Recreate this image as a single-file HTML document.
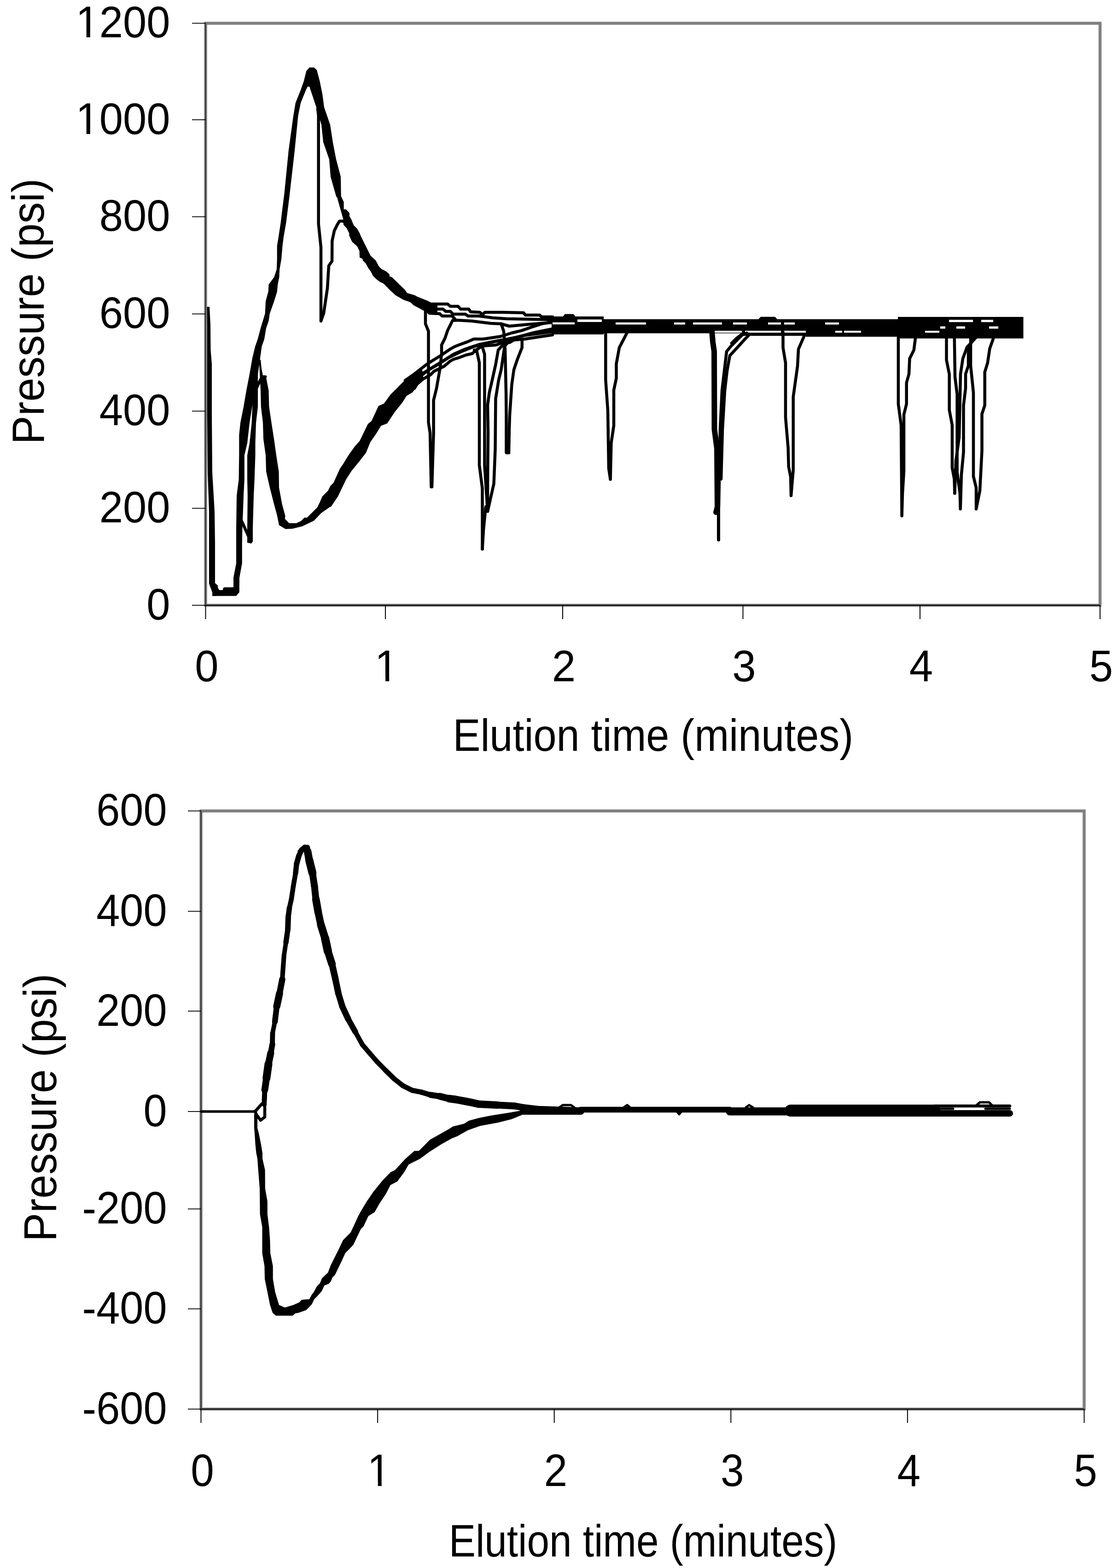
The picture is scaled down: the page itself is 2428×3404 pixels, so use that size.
<!DOCTYPE html>
<html><head><meta charset="utf-8"><style>
html,body{margin:0;padding:0;background:#fff;}
svg{display:block;}
text{font-family:'Liberation Sans', Arial, sans-serif;fill:#000;}
</style></head><body>
<svg width="2428" height="3404" viewBox="0 0 2428 3404" xmlns="http://www.w3.org/2000/svg">
<rect width="2428" height="3404" fill="#fff"/>
<rect x="446.5" y="50.5" width="1942.5" height="1263.5" fill="none" stroke="#808080" stroke-width="6.5"/>
<rect x="436.5" y="1760.5" width="1918.0" height="1298.5" fill="none" stroke="#808080" stroke-width="6.5"/>
<g fill="none" stroke="#000" stroke-width="6.5" stroke-linejoin="round" stroke-linecap="round">
<path d="M449.5 666 L450 705 L450 790 L450 900 L451 1025 L454 1110 L454 1267 L461 1286 L461.4 1293.8 L470 1293.8 L467 1281 L467 1180 L466 1110 L461 1025 L460 900 L460 790 L457.5 760 L457 705 L455 666Z" fill="#000" stroke="none"/>
<path d="M461 1286 L461.4 1293.8 L512.8 1293.8 L519.8 1285.7 L519.8 1275 L507 1275 L487.3 1275 L484.3 1277 L484 1281 L476 1281 L473 1275 L473 1271 L467 1265.7 L467 1275Z" fill="#000" stroke="none"/>
<path d="M507 1290 L507 1254 L513 1223 L513 1146 L514 1076 L518.5 1041 L519.3 988 L519.3 944 L522 918 L529 883 L535 848 L542 812 L548 777.6 L554.2 752 L559.8 736 L566 712.5 L570.8 696.7 L575.6 681 L577 654 L582.7 633 L583.5 617.6 L595.3 601.8 L600.9 584.4 L601.7 562.3 L601.7 533.8 L604.8 514.9 L609.6 483.2 L613.5 451.6 L617.5 420 L626.7 327.3 L637 252 L641.8 223.6 L653 195.4 L659.7 176.5 L665.3 154 L672 146.4 L682 146.4 L688 152 L694.5 176.5 L700.2 204.8 L704 233 L717 270.7 L722.8 308.4 L730 346 L740 383.8 L740.7 426 L746.6 438.6 L746.6 454.6 L751.5 454.6 L759 462.6 L759 469.4 L762.6 475.6 L768.2 489 L775.6 496.5 L780.5 505 L784.2 513.7 L796.5 538.4 L805 555.6 L816.2 565.5 L822.4 577.8 L828.5 584 L838.4 588.9 L845.8 595.6 L845.8 600 L850.7 601.2 L880.2 630 L884 636 L901 641 L913 648.4 L925.7 653 L930.6 658 L950 659 L950 680.5 L930.6 680.5 L913 670.6 L898.6 663 L891 656 L876.5 651 L859 641 L847 630 L833.4 616 L823.6 611 L816.2 604.9 L810 598.7 L805 588.9 L800.2 582.7 L794 571.6 L787.9 565.5 L787.3 561.8 L781.1 559.3 L780.5 544.5 L775.6 534.7 L764.5 524.8 L758.3 511.3 L758.3 506.4 L752.8 495.3 L746 487.9 L746 478 L732.5 430 L730 426 L718 383.8 L715 346 L702 308.4 L698 270.7 L687 233 L677.6 204.8 L672 188 L668 188 L664.4 195.4 L653 223.6 L647.4 252 L639.9 327.3 L628.6 426 L625.4 451.6 L621.4 483.2 L615.9 514.9 L613.5 533.8 L611.1 562.3 L607.2 584.4 L606.4 601.8 L603.2 617.6 L601.7 633.4 L595.3 654 L585.8 681 L583.5 696.7 L578 712.5 L574 736.2 L568.5 752 L565 777.6 L560 812.7 L560 848 L547.5 883 L542 918 L537 962 L530.8 988.5 L530.8 1041 L529 1076 L526.4 1146.6 L525.7 1180 L525.7 1223 L520 1254 L519.8 1275 L507 1275Z" fill="#000" stroke="none"/>
<path d="M690 236 L691.7 250 L691.7 486 L697 537 L697 697 L703 680 L711 626 L714 577 L721 567 L721.3 523 L726 501 L732.4 488 L737.3 480 L746 480 L751 486" stroke-width="6.5"/>
<path d="M537 1178 L537 1146.6 L537.8 1076 L537 1041 L537 988.5 L542 962 L546.6 918 L548 883 L552 860 L558 845 L560 850 L560 883 L556 918 L554.5 962 L554.5 988.5 L552.7 1041 L551 1076 L549 1146.6 L549 1176 L545.5 1180Z" fill="#000" stroke="none"/>
<path d="M524 1130 L528 1138 L539 1163 L541 1166" stroke-width="6.5"/>
<path d="M556 845 L562 832 L567 822 L571 818 L576 818" stroke-width="6.5"/>
<path d="M560.6 781 L563 790 L566 848 L566.8 883 L571 918 L572 953 L577 988.5 L578 1023.6 L586 1058.8 L595 1094 L602 1120 L606 1140 L620 1148.6 L635.4 1147.7 L656.6 1142.6 L681.6 1130.6 L698 1113.5 L716.7 1100.6 L719 1100 L733.9 1077.7 L751.5 1041 L763.7 1022 L781.3 1000.5 L794.8 982.9 L804.3 959.8 L816.5 942.2 L827.3 924.6 L840.9 919.2 L857.1 894.8 L873.4 874.5 L882.9 859.6 L896.4 851.5 L903.2 840.6 L914 827 L920 825.7 L916.7 800 L906 808 L899 810.8 L893.7 816.3 L881.5 823 L847.7 856.9 L834 875.9 L822 881.3 L807 913.8 L798.9 920.6 L781.3 957 L770.4 969.3 L759.6 984.2 L754.2 992.4 L746 1006 L737.9 1018 L724.4 1048 L717.6 1054.7 L712.2 1065.5 L700 1077.7 L694.5 1090.5 L689 1101.5 L666.8 1123.7 L661 1123.7 L653.9 1131 L643.7 1135.7 L628 1135.7 L618.8 1126.5 L619.5 1120 L612.5 1094 L606 1058.8 L605.5 1023.6 L600 988.5 L595 953 L589.6 918 L584.4 883 L583.5 848 L580 830 L577.3 816 L571 816 L568 800 L566 781Z" fill="#000" stroke="none"/>
<path d="M900 645 L925 655 L935 660 L972 660 L978 665 L995 665 L1000 671 L1018 671 L1022 677 L1042 678 L1048 683 L1053 678 L1085 678 L1092 678 L1137 679 L1141 684 L1172 684 L1176 688 L1200 688" stroke-width="6.5"/>
<path d="M905 652 L935 671 L962 671 L968 676 L978 676 L984 682 L1011 682 L1016 686 L1040 686 L1070 690 L1100 692 L1150 693 L1200 694" stroke-width="6.5"/>
<path d="M910 660 L933 680 L955 681 L960 686 L982 686 L990 695 L1025 697 L1066 702 L1088 703 L1106 708 L1150 704 L1200 700" stroke-width="6.5"/>
<path d="M880 855 L900 843 L905.5 834 L918.5 823 L935 813.7 L942.5 806 L953.6 800.7 L964.7 795 L977.6 784 L985 780 L996 776.7 L1011 771 L1025.6 767.5 L1036.7 758 L1047.8 751 L1077 749 L1092 743.5 L1107 743.5 L1116 738 L1140 736 L1166 732 L1200 727" stroke-width="6.5"/>
<path d="M880 826 L900 811.8 L926 791.5 L940.6 782 L955.4 773 L977.6 758 L986.8 752.7 L996 749 L1016.4 741.6 L1029 736 L1049.6 736 L1086.6 730.5 L1110.6 723 L1132.8 717.6 L1155 710 L1177 702.8 L1200 699" stroke-width="6.5"/>
<path d="M880 840 L900 828 L930 803 L960 785 L985 769 L1010 758 L1040 748 L1080 740 L1120 733 L1160 722 L1200 714" stroke-width="6.5"/>
<path d="M890 833 L915 812 L945 795 L975 776 L1000 764 L1030 752 L1060 744 L1100 737 L1140 728 L1200 720" stroke-width="6.5"/>
<path d="M1198 687 L1311 687 L1311 726 L1198 726Z" fill="#000" stroke="none"/>
<path d="M1311 693 L1752 693 L1752 723.6 L1311 723.6Z" fill="#000" stroke="none"/>
<path d="M1611 722 L1752 722 L1752 729 L1611 729Z" fill="#000" stroke="none"/>
<path d="M1750 693 L1952 693 L1952 731 L1750 731Z" fill="#000" stroke="none"/>
<path d="M1950 688 L2222.5 688 L2222.5 734.7 L1950 734.7Z" fill="#000" stroke="none"/>
<path d="M1224 690 L1228 684.5 L1244 684.5 L1249 690" stroke-width="5.5"/>
<path d="M1648 696 L1653 690.5 L1682 690.5 L1687 696" stroke-width="5.5"/>
<path d="M1589 745 L1600 734 L1611 725.8" stroke-width="6.5"/>
<path d="M1200 702 L1248 702" stroke="#fff" stroke-width="4.5" stroke-linecap="butt"/>
<path d="M1254 696.3 L1307 696.3" stroke="#fff" stroke-width="5.5" stroke-linecap="butt"/>
<path d="M1337 702.3 L1403 702.3" stroke="#fff" stroke-width="4.5" stroke-linecap="butt"/>
<path d="M1464 702.3 L1488 702.3" stroke="#fff" stroke-width="4.5" stroke-linecap="butt"/>
<path d="M1505 702.3 L1568 702.3" stroke="#fff" stroke-width="4.5" stroke-linecap="butt"/>
<path d="M1592 702.3 L1622 702.3" stroke="#fff" stroke-width="4.5" stroke-linecap="butt"/>
<path d="M1668 702.3 L1696 702.3" stroke="#fff" stroke-width="4.5" stroke-linecap="butt"/>
<path d="M1703 702.3 L1726 702.3" stroke="#fff" stroke-width="4.5" stroke-linecap="butt"/>
<path d="M1792 702.3 L1822 702.3" stroke="#fff" stroke-width="4.5" stroke-linecap="butt"/>
<path d="M1540 720.2 L1611 720.2" stroke="#fff" stroke-width="4.2" stroke-linecap="butt"/>
<path d="M1618 720.2 L1696 720.2" stroke="#fff" stroke-width="4.2" stroke-linecap="butt"/>
<path d="M1703 720.2 L1750 720.2" stroke="#fff" stroke-width="4.2" stroke-linecap="butt"/>
<path d="M1814 720.2 L1829 720.2" stroke="#fff" stroke-width="4.2" stroke-linecap="butt"/>
<path d="M1833 720.2 L1870 720.2" stroke="#fff" stroke-width="4.2" stroke-linecap="butt"/>
<path d="M2009 720.2 L2040 720.2" stroke="#fff" stroke-width="4.2" stroke-linecap="butt"/>
<path d="M2061 696.8 L2113 696.8" stroke="#fff" stroke-width="5" stroke-linecap="butt"/>
<path d="M2131 696.8 L2157 696.8" stroke="#fff" stroke-width="5" stroke-linecap="butt"/>
<path d="M2042 711 L2053 711" stroke="#fff" stroke-width="5" stroke-linecap="butt"/>
<path d="M2077 711 L2096 711" stroke="#fff" stroke-width="5" stroke-linecap="butt"/>
<path d="M2148 711 L2168 711" stroke="#fff" stroke-width="5" stroke-linecap="butt"/>
<path d="M1203 727.5 L1211 727.5" stroke="#fff" stroke-width="3" stroke-linecap="butt"/>
<path d="M1222 727.5 L1230 727.5" stroke="#fff" stroke-width="3" stroke-linecap="butt"/>
<path d="M1242 727.5 L1250 727.5" stroke="#fff" stroke-width="3" stroke-linecap="butt"/>
<path d="M1263 727.5 L1271 727.5" stroke="#fff" stroke-width="3" stroke-linecap="butt"/>
<path d="M924 667 L924 703 L930.5 719 L930.5 917 L934 940 L936.5 1057 L938 1057 L941.6 940 L941.6 869 L948 843 L955.4 801 L959 769 L959 749 L966.5 734 L972 717.6 L977.6 706.5 L983 695.4 L990.5 695.4" stroke-width="6.5"/>
<path d="M1030 760 L1035 760 L1041 788 L1041 1010 L1047.5 1060 L1047.5 1192" stroke-width="6.5"/>
<path d="M1048 754.5 L1052.4 769 L1052.4 1010 L1059 1110" stroke-width="6.5"/>
<path d="M1047.5 1192 L1050 1150 L1055 1100 L1059 1110 L1059 1050 L1060 940 L1059 880 L1062.6 852.4 L1069 824.7 L1076.4 791.5 L1082 760 L1090 751 L1096 743.5" stroke-width="6.5"/>
<path d="M1059 1110 L1072.5 1050 L1075.5 975 L1076.4 865.4 L1083 824.7 L1088.4 802.6 L1096 751 L1107 739.8" stroke-width="6.5"/>
<path d="M1088.4 702.8 L1094 719.4 L1097 760 L1099 852.4 L1099.5 900 L1099.5 982" stroke-width="6.5"/>
<path d="M1105 982 L1106 930 L1107 900 L1111.5 834 L1116 802.6 L1123.5 780.4 L1133.7 754.5 L1133.7 739.8" stroke-width="6.5"/>
<path d="M1100 983 L1105 983" stroke-width="6.5"/>
<path d="M1315.3 715 L1315.3 824.7 L1320 891 L1322 1017 L1325.6 1040.8 L1327.4 961.4 L1333 924 L1333 847 L1338.5 821 L1338.5 789.6 L1345 754.5 L1362.5 721" stroke-width="6.5"/>
<path d="M1546 718 L1548 742 L1551 763 L1551.5 932 L1557 974 L1558 1101 L1555 1112" stroke-width="12"/>
<path d="M1560.5 1040 L1560.5 1172" stroke-width="7"/>
<path d="M1561 1100 L1564 932 L1568 848 L1573 805 L1578 763 L1587 752 L1612 727 L1622 723" stroke-width="6.5"/>
<path d="M1566 1040 L1569 932 L1574 848 L1579 805 L1585 772 L1598 758 L1618 736 L1625 729" stroke-width="6.5"/>
<path d="M1700.5 721 L1700.5 754.5 L1706 787.8 L1706 906 L1711.6 972.5 L1712.7 1013 L1717 1035 L1718 1076 L1722.7 1020.5 L1722.7 861.6 L1732 795 L1734 758 L1746.7 728.7" stroke-width="6.5"/>
<path d="M1950.9 732 L1950.9 877 L1957 923 L1958.6 1120 L1960 1071 L1963 1022 L1963 900 L1968.7 877 L1968.7 831 L1974 812 L1975.5 778.5 L1984.7 760 L1987.8 735.4" stroke-width="6.5"/>
<path d="M2055.5 732 L2055.5 781.6 L2061.7 812.4 L2061.7 890 L2067.9 923 L2067.9 1015.6 L2072.5 1040 L2073.4 1071" stroke-width="6.5"/>
<path d="M2072.5 720 L2074 818.6 L2078.6 855.5 L2078.6 1025 L2084.8 1071 L2085.7 1105 L2087.9 1031 L2092.5 981.7 L2092.5 880 L2097 843 L2097 812 L2103 794 L2103 763 L2111 738.5 L2120 732" stroke-width="6.5"/>
<path d="M2073.4 1071 L2076 1000 L2083 950 L2086 812 L2091 778.5 L2100 754 L2120 732" stroke-width="6.5"/>
<path d="M2108 717 L2108 794 L2114 852.4 L2114 1034 L2120 1059 L2120 1105 L2128 1065 L2132.5 978.7 L2132.5 898.6 L2138.7 880 L2138.7 807.8 L2144.8 787.8 L2149.4 757 L2157 735.4" stroke-width="6.5"/>
<path d="M437 2413 L554 2413" stroke-width="5.5"/>
<path d="M554 2413 L569 2396 L575 2400 L575 2425 L566 2432 L557 2420 L554 2413" stroke-width="6.5"/>
<path d="M574 2398 L574 2390" stroke-width="10.2"/>
<path d="M574 2390 L575 2366" stroke-width="11"/>
<path d="M575 2366 L578.7 2341" stroke-width="14.8"/>
<path d="M578.7 2341 L583 2310" stroke-width="17"/>
<path d="M583 2310 L588 2286" stroke-width="15"/>
<path d="M588 2286 L591.5 2267" stroke-width="12.5"/>
<path d="M591.5 2267 L592 2243" stroke-width="10.8"/>
<path d="M592 2243 L597 2218" stroke-width="9.8"/>
<path d="M597 2218 L601 2185" stroke-width="12.5"/>
<path d="M601 2185 L607 2157" stroke-width="15.5"/>
<path d="M607 2157 L613 2126" stroke-width="13.5"/>
<path d="M613 2126 L616.8 2074" stroke-width="10.2"/>
<path d="M616.8 2074 L621 2046" stroke-width="9.8"/>
<path d="M621 2046 L625 2018" stroke-width="11.5"/>
<path d="M625 2018 L626 1990" stroke-width="12"/>
<path d="M626 1990 L628.5 1971" stroke-width="11.5"/>
<path d="M628.5 1971 L632.8 1952" stroke-width="10.5"/>
<path d="M632.8 1952 L637 1924" stroke-width="10.5"/>
<path d="M637 1924 L642 1895" stroke-width="10.5"/>
<path d="M642 1895 L644 1876" stroke-width="11.5"/>
<path d="M644 1876 L649 1858" stroke-width="12"/>
<path d="M649 1858 L655 1845" stroke-width="11.5"/>
<path d="M655 1845 L662 1839" stroke-width="11"/>
<path d="M650 1848 L663 1837.5 L668 1837.5 L670 1845" stroke-width="7"/>
<path d="M667 1840 L668 1848" stroke-width="12.5"/>
<path d="M668 1848 L671.5 1867" stroke-width="16.5"/>
<path d="M671.5 1867 L678.5 1895" stroke-width="17.5"/>
<path d="M678.5 1895 L683 1924" stroke-width="15"/>
<path d="M683 1924 L686 1952" stroke-width="15"/>
<path d="M686 1952 L691 1980" stroke-width="16.5"/>
<path d="M691 1980 L697 2008" stroke-width="16"/>
<path d="M697 2008 L706 2037" stroke-width="17"/>
<path d="M706 2037 L712 2065" stroke-width="18"/>
<path d="M712 2065 L721 2093" stroke-width="16.5"/>
<path d="M721 2093 L728.5 2126" stroke-width="14.5"/>
<path d="M728.5 2126 L735 2157" stroke-width="14"/>
<path d="M735 2157 L743.5 2185" stroke-width="13.5"/>
<path d="M743.5 2185 L756 2212" stroke-width="13.5"/>
<path d="M756 2212 L771.6 2240" stroke-width="12.5"/>
<path d="M771.6 2240 L787 2268" stroke-width="10.5"/>
<path d="M787 2268 L802.5 2286" stroke-width="10.5"/>
<path d="M802.5 2286 L819 2305" stroke-width="10.5"/>
<path d="M819 2305 L836.7 2323" stroke-width="10.5"/>
<path d="M836.7 2323 L856 2342" stroke-width="11"/>
<path d="M856 2342 L875 2357" stroke-width="11"/>
<path d="M875 2357 L895 2367" stroke-width="11"/>
<path d="M895 2367 L915 2371" stroke-width="11"/>
<path d="M915 2371 L935 2377" stroke-width="11.5"/>
<path d="M935 2377 L955 2380" stroke-width="13"/>
<path d="M955 2380 L975 2385" stroke-width="15"/>
<path d="M975 2385 L990 2387" stroke-width="16.5"/>
<path d="M990 2387 L1022 2393" stroke-width="16.5"/>
<path d="M1022 2393 L1040 2397" stroke-width="16.5"/>
<path d="M1040 2397 L1080 2399" stroke-width="16"/>
<path d="M1080 2399 L1118 2401" stroke-width="15"/>
<path d="M1118 2401 L1140 2405" stroke-width="14.5"/>
<path d="M1140 2405 L1175 2409" stroke-width="15"/>
<path d="M1175 2409 L1261 2412" stroke-width="16"/>
<path d="M552 2418 L552 2449 L553 2460 L554.6 2485 L556.5 2503 L559 2515.5 L560.8 2540 L564 2580 L564.6 2636 L569.5 2664 L569.5 2720.5 L574.4 2748.7 L575 2776.8 L580.8 2804.9 L586.4 2833 L592 2850 L599 2856.2 L635.6 2856.2 L641.2 2851.3 L648.2 2849.9 L664.8 2844.3 L677.4 2831.3 L682.2 2820.7 L689 2814 L698.6 2803.3 L704.4 2790.7 L714.1 2786.9 L719 2781 L721.8 2773.3 L727.6 2767.5 L742.1 2737.6 L749.9 2720.2 L758.6 2711.5 L767.2 2702.8 L783.7 2668 L789.5 2662.2 L800 2640 L813.6 2631.5 L823.4 2614 L838 2592 L848 2572.4 L862.8 2565 L877.6 2545 L887.5 2528 L912 2515.8 L932 2501 L959 2483.7 L981 2471.4 L993.4 2466.5 L1015.6 2454 L1042.7 2444.3 L1082 2437 L1111.6 2429.6 L1137 2419 L1137 2410 L1109 2415 L1065 2422 L1040 2427 L1018 2433 L1008 2439.4 L983.5 2445.6 L973.7 2451.7 L956.5 2461.6 L934 2474 L909.7 2498.5 L900 2498.5 L880 2516 L858 2540 L848 2545 L831 2562.6 L811 2587 L796 2609 L784 2629 L778 2640 L769.2 2659.3 L761.4 2675.7 L745 2692.2 L734.4 2714.4 L718 2747.2 L712.2 2762.7 L699 2775.3 L694.8 2786 L688 2792.7 L681.3 2805.2 L677.4 2810 L671.6 2820.7 L666.3 2820.7 L655.2 2821.7 L649.6 2827.4 L637 2833 L618.7 2838.6 L606 2833 L597.6 2804.9 L592.7 2776.8 L592.7 2748.7 L587.1 2720.5 L586.4 2692.4 L584.3 2664 L580.8 2636 L580.8 2608 L575.8 2580 L575.6 2540 L570 2515.5 L570 2503 L567 2485 L562 2460 L559 2449 L559 2420Z" fill="#000" stroke="none"/>
<path d="M1137 2412 L1261 2412" stroke-width="16"/>
<path d="M1261 2409 L1585 2409" stroke-width="12.4"/>
<path d="M1585 2412.8 L1717 2412.8" stroke-width="17.6"/>
<path d="M1717 2411 L2029 2411" stroke-width="26"/>
<path d="M2029 2401 L2193 2401" stroke-width="6.5"/>
<path d="M2029 2417 L2193 2417" stroke-width="14"/>
<path d="M2035 2407 L2070 2407" stroke-width="5"/>
<path d="M2140 2407 L2193 2407" stroke-width="5"/>
<path d="M1215 2404 L1222 2399 L1240 2399 L1247 2404" stroke-width="5"/>
<path d="M1355 2404 L1362 2399 L1368 2404" stroke-width="5"/>
<path d="M1470 2413 L1475 2419 L1480 2413" stroke-width="5"/>
<path d="M1620 2404 L1627 2399 L1635 2404" stroke-width="5"/>
<path d="M2120 2400 L2128 2393 L2148 2393 L2155 2400" stroke-width="5"/>
</g>
<line x1="446.5" y1="50.5" x2="446.5" y2="1314" stroke="#000" stroke-width="1.2"/>
<line x1="446.5" y1="1314" x2="2389" y2="1314" stroke="#000" stroke-width="2"/>
<line x1="417.0" y1="50.5" x2="446.5" y2="50.5" stroke="#000" stroke-width="1.8"/>
<line x1="417.0" y1="260" x2="446.5" y2="260" stroke="#000" stroke-width="1.8"/>
<line x1="417.0" y1="470.5" x2="446.5" y2="470.5" stroke="#000" stroke-width="1.8"/>
<line x1="417.0" y1="681.5" x2="446.5" y2="681.5" stroke="#000" stroke-width="1.8"/>
<line x1="417.0" y1="892.5" x2="446.5" y2="892.5" stroke="#000" stroke-width="1.8"/>
<line x1="417.0" y1="1103.5" x2="446.5" y2="1103.5" stroke="#000" stroke-width="1.8"/>
<line x1="417.0" y1="1314" x2="446.5" y2="1314" stroke="#000" stroke-width="1.8"/>
<line x1="446.5" y1="1314" x2="446.5" y2="1344" stroke="#000" stroke-width="2"/>
<line x1="837" y1="1314" x2="837" y2="1344" stroke="#000" stroke-width="2"/>
<line x1="1222" y1="1314" x2="1222" y2="1344" stroke="#000" stroke-width="2"/>
<line x1="1613.5" y1="1314" x2="1613.5" y2="1344" stroke="#000" stroke-width="2"/>
<line x1="1998" y1="1314" x2="1998" y2="1344" stroke="#000" stroke-width="2"/>
<line x1="2389" y1="1314" x2="2389" y2="1344" stroke="#000" stroke-width="2"/>
<line x1="436.5" y1="1760.5" x2="436.5" y2="3059" stroke="#000" stroke-width="1.2"/>
<line x1="436.5" y1="3059" x2="2354.5" y2="3059" stroke="#000" stroke-width="2"/>
<line x1="408.0" y1="1760.5" x2="436.5" y2="1760.5" stroke="#000" stroke-width="1.8"/>
<line x1="408.0" y1="1978.4" x2="436.5" y2="1978.4" stroke="#000" stroke-width="1.8"/>
<line x1="408.0" y1="2195" x2="436.5" y2="2195" stroke="#000" stroke-width="1.8"/>
<line x1="408.0" y1="2413" x2="436.5" y2="2413" stroke="#000" stroke-width="1.8"/>
<line x1="408.0" y1="2624.5" x2="436.5" y2="2624.5" stroke="#000" stroke-width="1.8"/>
<line x1="408.0" y1="2841.4" x2="436.5" y2="2841.4" stroke="#000" stroke-width="1.8"/>
<line x1="408.0" y1="3059" x2="436.5" y2="3059" stroke="#000" stroke-width="1.8"/>
<line x1="436.5" y1="3059" x2="436.5" y2="3089" stroke="#000" stroke-width="2"/>
<line x1="820.1" y1="3059" x2="820.1" y2="3089" stroke="#000" stroke-width="2"/>
<line x1="1203.7" y1="3059" x2="1203.7" y2="3089" stroke="#000" stroke-width="2"/>
<line x1="1587.3" y1="3059" x2="1587.3" y2="3089" stroke="#000" stroke-width="2"/>
<line x1="1970.9" y1="3059" x2="1970.9" y2="3089" stroke="#000" stroke-width="2"/>
<line x1="2354.5" y1="3059" x2="2354.5" y2="3089" stroke="#000" stroke-width="2"/>
<g transform="translate(164.43,81.10) scale(0.9530,1)"><text font-size="96.8">1200</text><rect x="5.81" y="-9.68" width="18.59" height="10.65" fill="#fff"/><rect x="32.96" y="-9.68" width="17.42" height="10.65" fill="#fff"/></g>
<g transform="translate(164.43,290.60) scale(0.9530,1)"><text font-size="96.8">1000</text><rect x="5.81" y="-9.68" width="18.59" height="10.65" fill="#fff"/><rect x="32.96" y="-9.68" width="17.42" height="10.65" fill="#fff"/></g>
<g transform="translate(215.63,501.10) scale(0.9530,1)"><text font-size="96.8">800</text></g>
<g transform="translate(215.63,712.10) scale(0.9530,1)"><text font-size="96.8">600</text></g>
<g transform="translate(215.63,923.10) scale(0.9530,1)"><text font-size="96.8">400</text></g>
<g transform="translate(215.63,1134.10) scale(0.9530,1)"><text font-size="96.8">200</text></g>
<g transform="translate(318.26,1344.60) scale(0.9530,1)"><text font-size="96.8">0</text></g>
<g transform="translate(423.32,1479.00) scale(0.9540,1)"><text font-size="96.8">0</text></g>
<g transform="translate(813.82,1479.00) scale(0.9540,1)"><text font-size="96.8">1</text><rect x="5.81" y="-9.68" width="18.59" height="10.65" fill="#fff"/><rect x="32.96" y="-9.68" width="17.42" height="10.65" fill="#fff"/></g>
<g transform="translate(1198.82,1479.00) scale(0.9540,1)"><text font-size="96.8">2</text></g>
<g transform="translate(1590.32,1479.00) scale(0.9540,1)"><text font-size="96.8">3</text></g>
<g transform="translate(1974.82,1479.00) scale(0.9540,1)"><text font-size="96.8">4</text></g>
<g transform="translate(2365.82,1479.00) scale(0.9540,1)"><text font-size="96.8">5</text></g>
<g transform="translate(983.38,1629.90) scale(0.9228,1)"><text font-size="97.5">Elution time (minutes)</text></g>
<text transform="translate(95.10,964.55) rotate(-90) scale(0.9514,1)" font-size="97.5">Pressure (psi)</text>
<g transform="translate(209.15,1792.30) scale(0.9400,1)"><text font-size="97.8">600</text></g>
<g transform="translate(209.15,2010.20) scale(0.9400,1)"><text font-size="97.8">400</text></g>
<g transform="translate(209.15,2226.80) scale(0.9400,1)"><text font-size="97.8">200</text></g>
<g transform="translate(311.43,2444.80) scale(0.9400,1)"><text font-size="97.8">0</text></g>
<g transform="translate(178.58,2656.30) scale(0.9400,1)"><text font-size="97.8">-200</text></g>
<g transform="translate(178.58,2873.20) scale(0.9400,1)"><text font-size="97.8">-400</text></g>
<g transform="translate(178.58,3090.80) scale(0.9400,1)"><text font-size="97.8">-600</text></g>
<g transform="translate(414.21,3226.00) scale(0.9300,1)"><text font-size="97.8">0</text></g>
<g transform="translate(797.81,3226.00) scale(0.9300,1)"><text font-size="97.8">1</text><rect x="5.87" y="-9.78" width="18.78" height="10.76" fill="#fff"/><rect x="33.30" y="-9.78" width="17.60" height="10.76" fill="#fff"/></g>
<g transform="translate(1181.41,3226.00) scale(0.9300,1)"><text font-size="97.8">2</text></g>
<g transform="translate(1565.01,3226.00) scale(0.9300,1)"><text font-size="97.8">3</text></g>
<g transform="translate(1948.61,3226.00) scale(0.9300,1)"><text font-size="97.8">4</text></g>
<g transform="translate(2332.21,3226.00) scale(0.9300,1)"><text font-size="97.8">5</text></g>
<g transform="translate(974.70,3378.90) scale(0.8797,1)"><text font-size="99.2">Elution time (minutes)</text></g>
<text transform="translate(122.10,2695.41) rotate(-90) scale(0.9423,1)" font-size="99.2">Pressure (psi)</text>
</svg>
</body></html>
